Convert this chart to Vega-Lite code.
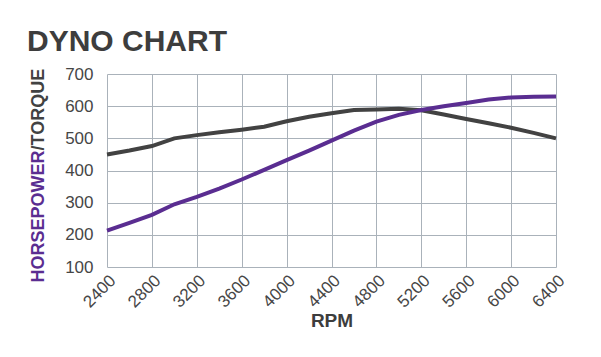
{
  "$schema": "https://vega.github.io/schema/vega-lite/v6.json",
  "width": 449,
  "height": 193,
  "autosize": "none",
  "padding": {"left": 107, "top": 74, "right": 45, "bottom": 90},
  "background": "white",
  "title": {"text": "DYNO CHART", "anchor": "start", "frame": "group", "font": "Liberation Sans", "fontSize": 30, "fontWeight": "bold", "color": "#3d3d3d", "dx": -80, "offset": 8},
  "config": {
    "view": {"stroke": null},
    "axis": {"labelFont": "Liberation Sans", "labelFontSize": 17, "labelColor": "#464646", "titleFont": "Liberation Sans", "titleFontWeight": "bold", "gridColor": "#aab2ba", "gridOpacity": 1, "gridWidth": 1}
  },
  "data": {"values": [
    {"rpm": 2400, "hp": 213, "torque": 450},
    {"rpm": 2600, "hp": 237, "torque": 462},
    {"rpm": 2800, "hp": 262, "torque": 476},
    {"rpm": 3000, "hp": 295, "torque": 500},
    {"rpm": 3200, "hp": 318, "torque": 510},
    {"rpm": 3400, "hp": 344, "torque": 519},
    {"rpm": 3600, "hp": 372, "torque": 527},
    {"rpm": 3800, "hp": 402, "torque": 536},
    {"rpm": 4000, "hp": 432, "torque": 553},
    {"rpm": 4200, "hp": 462, "torque": 567},
    {"rpm": 4400, "hp": 493, "torque": 578},
    {"rpm": 4600, "hp": 524, "torque": 588},
    {"rpm": 4800, "hp": 552, "torque": 590},
    {"rpm": 5000, "hp": 573, "torque": 592},
    {"rpm": 5200, "hp": 588, "torque": 587},
    {"rpm": 5400, "hp": 600, "torque": 574},
    {"rpm": 5600, "hp": 610, "torque": 560},
    {"rpm": 5800, "hp": 621, "torque": 547},
    {"rpm": 6000, "hp": 627, "torque": 533},
    {"rpm": 6200, "hp": 629, "torque": 517},
    {"rpm": 6400, "hp": 630, "torque": 500}
  ]},
  "layer": [
    {
      "mark": {"type": "line", "color": "#424242", "strokeWidth": 4},
      "encoding": {
        "x": {"field": "rpm", "type": "quantitative", "scale": {"domain": [2400, 6400], "nice": false}},
        "y": {"field": "torque", "type": "quantitative", "scale": {"domain": [100, 700], "nice": false},
          "axis": {"orient": "right", "title": "/TORQUE", "labels": false, "ticks": false, "domain": false, "grid": false,
            "titleColor": "#424242", "titleFontSize": 18, "titleAngle": 270, "titleAlign": "left", "titleBaseline": "middle", "titleX": -518, "titleY": 76}}
      }
    },
    {
      "mark": {"type": "line", "color": "#5a2d91", "strokeWidth": 4},
      "encoding": {
        "x": {"field": "rpm", "type": "quantitative", "scale": {"domain": [2400, 6400], "nice": false},
          "axis": {"values": [2400, 2800, 3200, 3600, 4000, 4400, 4800, 5200, 5600, 6000, 6400], "format": "d", "labelAngle": -45, "grid": true, "ticks": false, "domain": false, "labelPadding": 5,
            "title": "RPM", "titleFontSize": 19, "titleColor": "#3d3d3d", "titlePadding": 1}},
        "y": {"field": "hp", "type": "quantitative", "scale": {"domain": [100, 700], "nice": false},
          "axis": {"values": [100, 200, 300, 400, 500, 600, 700], "grid": true, "ticks": false, "domain": false, "labelPadding": 14,
            "title": "HORSEPOWER", "titleColor": "#5a2d91", "titleFontSize": 18, "titleAngle": 270, "titleAlign": "left", "titleBaseline": "middle", "titleX": -69, "titleY": 208}}
      }
    }
  ],
  "resolve": {"axis": {"y": "independent"}}
}
